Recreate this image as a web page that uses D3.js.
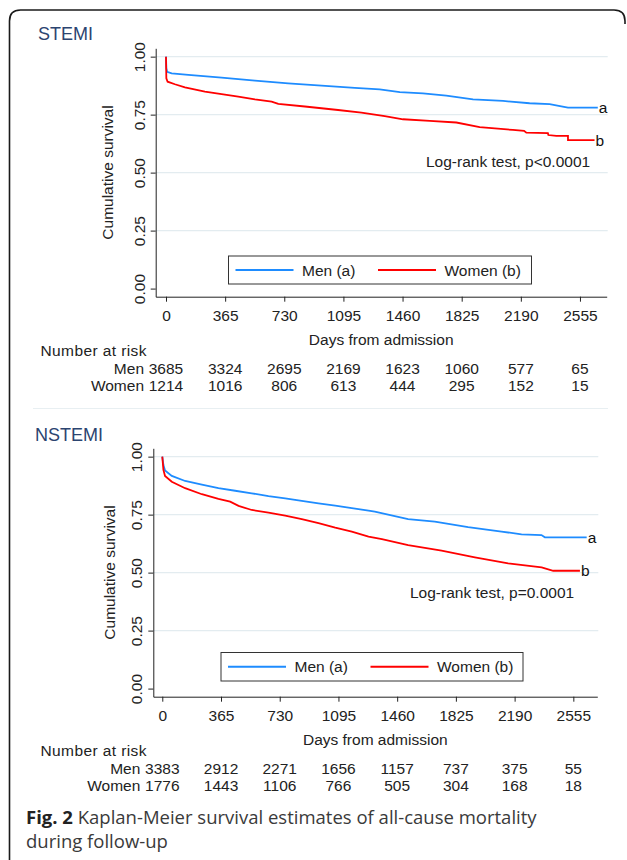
<!DOCTYPE html>
<html>
<head>
<meta charset="utf-8">
<script src="https://cdn.jsdelivr.net/npm/d3@7"></script>
<style>
	body { margin: 0; background: #fff; }
	svg text { font-family: "Liberation Sans", Arial, sans-serif; }
	svg text.caption { font-family: "Open Sans", "Noto Sans", sans-serif; }
</style>
</head>
<body>
<svg id="chart" width="627" height="860"></svg>
<script>
'use strict';

/** values */
const xTicks = [0, 365, 730, 1095, 1460, 1825, 2190, 2555];
const yTicks = [0, 0.25, 0.5, 0.75, 1];
const legendLabels = ['Men (a)', 'Women (b)'];
const riskLabels = ['Men', 'Women'];
const endLabels = ['a', 'b'];

// [days, cumulative survival]
const stemiMen = [
	[0, 1.000], [2, 0.950], [7, 0.935], [35, 0.928], [138, 0.921], [343, 0.910],
	[549, 0.897], [754, 0.885], [960, 0.875], [1165, 0.865], [1319, 0.859],
	[1443, 0.847], [1586, 0.842], [1730, 0.832], [1895, 0.816], [2080, 0.809],
	[2244, 0.799], [2368, 0.795], [2440, 0.786], [2481, 0.780], [2665, 0.780]
];
const stemiWomen = [
	[0, 1.000], [2, 0.907], [10, 0.892], [55, 0.881], [117, 0.868], [240, 0.849],
	[343, 0.838], [446, 0.828], [549, 0.816], [652, 0.806], [693, 0.796],
	[857, 0.785], [1062, 0.770], [1206, 0.759], [1350, 0.744], [1463, 0.730],
	[1628, 0.723], [1792, 0.716], [1936, 0.696], [2141, 0.684], [2210, 0.680],
	[2224, 0.672], [2357, 0.670], [2360, 0.662], [2409, 0.658], [2481, 0.658],
	[2481, 0.640], [2645, 0.640]
];
const nstemiMen = [
	[0, 1.000], [7, 0.964], [17, 0.940], [59, 0.917], [142, 0.895], [246, 0.879],
	[349, 0.864], [453, 0.853], [556, 0.842], [660, 0.830], [764, 0.820],
	[867, 0.809], [971, 0.799], [1075, 0.789], [1178, 0.778], [1282, 0.767],
	[1321, 0.763], [1528, 0.731], [1694, 0.720], [1901, 0.696], [2109, 0.677],
	[2233, 0.665], [2357, 0.662], [2378, 0.652], [2638, 0.652]
];
const nstemiWomen = [
	[0, 1.000], [7, 0.943], [17, 0.917], [59, 0.892], [142, 0.864], [246, 0.838],
	[349, 0.818], [422, 0.806], [474, 0.788], [556, 0.770], [660, 0.759],
	[764, 0.746], [867, 0.731], [971, 0.713], [1075, 0.694], [1178, 0.677],
	[1282, 0.655], [1365, 0.644], [1528, 0.619], [1736, 0.595], [1943, 0.566],
	[2150, 0.540], [2358, 0.523], [2430, 0.508], [2596, 0.508]
];

const stemiRiskMen = [3685, 3324, 2695, 2169, 1623, 1060, 577, 65];
const stemiRiskWomen = [1214, 1016, 806, 613, 444, 295, 152, 15];
const nstemiRiskMen = [3383, 2912, 2271, 1656, 1157, 737, 375, 55];
const nstemiRiskWomen = [1776, 1443, 1106, 766, 505, 304, 168, 18];

const colors = ['#1e8cff', '#ff0000'];
const FONT = 15.5;

const svg = d3.select('#chart');

// outer frame: rounded top, open to the right and bottom
svg.append('path')
	.attr('d', 'M9.5,860 V21 Q9.5,10 20.5,10 H614 Q625,10 625,21 V24')
	.attr('fill', 'none')
	.attr('stroke', '#1a1a1a')
	.attr('stroke-width', 1.6);

// faint edge of the upper graph region
svg.append('line')
	.attr('x1', 33).attr('x2', 608)
	.attr('y1', 408.5).attr('y2', 408.5)
	.attr('stroke', '#e8eff2');

/**
 * draw one Kaplan-Meier panel
 * @param {object} p layout of the panel
 */
function drawPanel(p){
	const x = d3.scaleLinear().domain(p.xDomain).range([p.left, p.right]);
	const y = d3.scaleLinear().domain([-0.035, 1.036]).range([p.bottom, p.top]);
	const g = svg.append('g');

	g.append('text')
		.attr('x', p.titleX).attr('y', p.titleY)
		.attr('font-size', 18)
		.attr('fill', '#2b4470')
		.text(p.title);

	// gridlines
	g.append('g').selectAll('line')
		.data(yTicks.filter(d => d > 0))
		.join('line')
			.attr('x1', p.left).attr('x2', p.right + 1)
			.attr('y1', d => y(d)).attr('y2', d => y(d))
			.attr('stroke', '#e3ecf0')
			.attr('stroke-width', 1.2);

	// y axis with rotated tick labels
	const ya = g.append('g')
		.attr('transform', `translate(${p.left},0)`)
		.attr('color', '#222')
		.call(d3.axisLeft(y).tickValues(yTicks).tickFormat(d3.format('.2f')).tickSize(5).tickSizeOuter(0));
	ya.selectAll('text')
		.attr('transform', 'rotate(-90)')
		.attr('x', 0).attr('y', -p.yLabelGap).attr('dy', null)
		.attr('dominant-baseline', 'central')
		.attr('text-anchor', 'middle')
		.attr('font-size', FONT);

	g.append('text')
		.attr('transform', `translate(${p.yTitleX},${(p.top + p.bottom) / 2}) rotate(-90)`)
		.attr('text-anchor', 'middle')
		.attr('dominant-baseline', 'central')
		.attr('font-size', FONT)
		.attr('fill', '#222')
		.text('Cumulative survival');

	// x axis
	const xa = g.append('g')
		.attr('transform', `translate(0,${p.bottom})`)
		.attr('color', '#222')
		.call(d3.axisBottom(x).tickValues(xTicks).tickFormat(d3.format('d')).tickSize(5).tickSizeOuter(0));
	xa.selectAll('text')
		.attr('y', 13)
		.attr('font-size', FONT);

	g.append('text')
		.attr('x', (p.left + p.right) / 2).attr('y', p.bottom + 48)
		.attr('text-anchor', 'middle')
		.attr('font-size', FONT)
		.attr('fill', '#222')
		.text('Days from admission');

	// survival curves
	const line = d3.line().x(d => x(d[0])).y(d => y(d[1]));
	p.series.forEach((s, i) => {
		g.append('path')
			.datum(s)
			.attr('d', line)
			.attr('fill', 'none')
			.attr('stroke', colors[i])
			.attr('stroke-width', 1.8);
		const last = s[s.length - 1];
		g.append('text')
			.attr('x', x(last[0]) + 1).attr('y', y(last[1]))
			.attr('dominant-baseline', 'central')
			.attr('font-size', FONT)
			.attr('fill', '#111')
			.text(endLabels[i]);
	});

	g.append('text')
		.attr('x', p.testX).attr('y', p.testY)
		.attr('font-size', FONT)
		.attr('fill', '#222')
		.text(p.test);

	// legend
	const lg = g.append('g').attr('transform', `translate(${p.legend[0]},${p.legend[1]})`);
	lg.append('rect')
		.attr('width', p.legend[2]).attr('height', p.legend[3])
		.attr('fill', '#fff')
		.attr('stroke', '#333')
		.attr('stroke-width', 1);
	legendLabels.forEach((lab, i) => {
		const ox = 7 + i * 142.5;
		lg.append('line')
			.attr('x1', ox).attr('x2', ox + 58)
			.attr('y1', p.legend[3] / 2).attr('y2', p.legend[3] / 2)
			.attr('stroke', colors[i])
			.attr('stroke-width', 1.8);
		lg.append('text')
			.attr('x', ox + 66.5).attr('y', p.legend[3] / 2)
			.attr('dominant-baseline', 'central')
			.attr('font-size', FONT)
			.attr('fill', '#222')
			.text(lab);
	});

	// number at risk table
	g.append('text')
		.attr('x', 40.5).attr('y', p.bottom + 59.5)
		.attr('font-size', FONT)
		.attr('letter-spacing', 0.4)
		.attr('fill', '#222')
		.text('Number at risk');
	p.risk.forEach((row, i) => {
		const ry = p.bottom + 77 + i * 17.5;
		g.append('text')
			.attr('x', x(0) - 22).attr('y', ry)
			.attr('text-anchor', 'end')
			.attr('font-size', FONT)
			.attr('fill', '#222')
			.text(riskLabels[i]);
		g.append('g').selectAll('text')
			.data(row)
			.join('text')
				.attr('x', (d, j) => x(xTicks[j]))
				.attr('y', ry)
				.attr('text-anchor', 'middle')
				.attr('font-size', FONT)
				.attr('fill', '#222')
				.text(d => d);
	});
}

drawPanel({
	title: 'STEMI', titleX: 38, titleY: 40,
	left: 155.7, right: 606.7, xDomain: [-63.6, 2720],
	top: 48.3, bottom: 296.7, yLabelGap: 16, yTitleX: 107.5,
	series: [stemiMen, stemiWomen],
	test: 'Log-rank test, p<0.0001', testX: 426, testY: 166.5,
	legend: [228.5, 256, 303, 28],
	risk: [stemiRiskMen, stemiRiskWomen]
});

drawPanel({
	title: 'NSTEMI', titleX: 35, titleY: 441,
	left: 153.3, right: 597.3, xDomain: [-55.9, 2704],
	top: 448.3, bottom: 696.7, yLabelGap: 16.6, yTitleX: 109.3,
	series: [nstemiMen, nstemiWomen],
	test: 'Log-rank test, p=0.0001', testX: 410, testY: 598,
	legend: [221, 652.5, 302, 28.5],
	risk: [nstemiRiskMen, nstemiRiskWomen]
});

// figure caption
const cap = svg.append('text')
	.attr('class', 'caption')
	.attr('font-size', 18.5)
	.attr('fill', '#3a3a3a');
cap.append('tspan').attr('x', 26).attr('y', 824)
	.attr('font-weight', 'bold').attr('fill', '#222').text('Fig. 2');
cap.append('tspan').text(' Kaplan-Meier survival estimates of all-cause mortality');
cap.append('tspan').attr('x', 26).attr('y', 848).text('during follow-up');
</script>
</body>
</html>
